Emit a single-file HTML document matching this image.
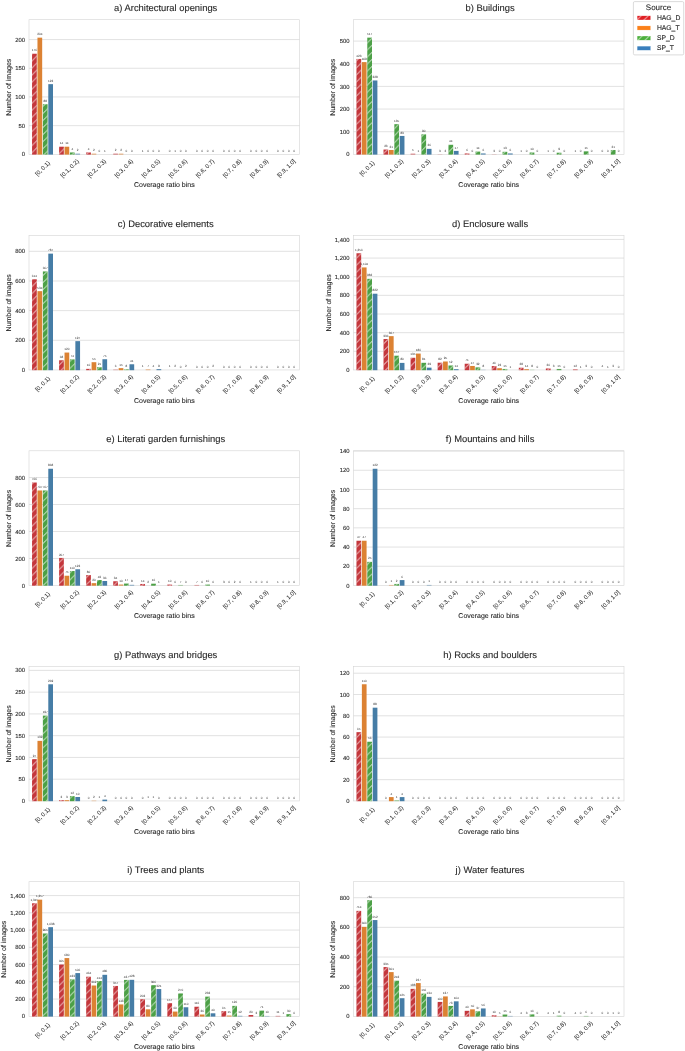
<!DOCTYPE html>
<html><head><meta charset="utf-8"><title>Coverage ratio distributions</title>
<style>html,body{margin:0;padding:0;background:#fff;}svg{display:block;will-change:transform;transform:translateZ(0);}text{font-family:"Liberation Sans",sans-serif;fill:#262626;stroke:#262626;stroke-width:0.1px;text-rendering:geometricPrecision;}.t{font-size:9.4px;text-anchor:middle;}.l{font-size:7.0px;text-anchor:middle;}.y{font-size:5.9px;text-anchor:end;}.x{font-size:5.9px;text-anchor:middle;stroke-width:0.04px;}.b{font-size:3.1px;text-anchor:middle;stroke:none;fill:#303030;}.g{stroke:#d6d6d6;stroke-width:0.7;fill:none;}.s{stroke:#d4d4d4;stroke-width:0.6;fill:none;}.e{stroke:#fff;stroke-width:0.45;}</style></head><body>
<svg width="685" height="1051" viewBox="0 0 685 1051">
<defs>
<pattern id="h" width="7.05" height="7.05" patternUnits="userSpaceOnUse"><path d="M-2 3.3 L3.3 -2 M-2 10.35 L10.35 -2" stroke="#fff" stroke-width="0.85" fill="none"/></pattern>
<pattern id="h2" width="7.05" height="7.05" patternUnits="userSpaceOnUse"><path d="M-2 3.3 L3.3 -2 M-2 10.35 L10.35 -2" stroke="#fff" stroke-width="0.8" fill="none"/></pattern>
</defs>
<rect width="685" height="1051" fill="#fff"/>
<g>
<text class="t" x="165.7" y="11.1">a) Architectural openings</text>
<text class="y" x="25.1" y="156.45">0</text>
<text class="y" x="25.1" y="127.75">50</text>
<text class="y" x="25.1" y="99.05">100</text>
<text class="y" x="25.1" y="70.36">150</text>
<text class="y" x="25.1" y="41.66">200</text>
<path class="g" d="M29 125.65H299.6M29 96.95H299.6M29 68.26H299.6M29 39.56H299.6"/>
<rect class="s" x="29" y="19.7" width="270.6" height="134.65"/>
<rect x="32.06" y="53.73" width="4.71" height="100.87" fill="#c4373c"/>
<rect x="32.06" y="53.73" width="4.71" height="100.87" fill="url(#h)"/>
<text class="b" x="34.41" y="51.33">176</text>
<rect x="37.47" y="37.66" width="4.71" height="116.94" fill="#dc8233"/>
<text class="b" x="39.82" y="35.26">204</text>
<rect x="42.88" y="104.24" width="4.71" height="50.36" fill="#4ca046"/>
<rect x="42.88" y="104.24" width="4.71" height="50.36" fill="url(#h)"/>
<text class="b" x="45.24" y="101.84">88</text>
<rect x="48.29" y="84.15" width="4.71" height="70.45" fill="#467da6"/>
<text class="b" x="50.65" y="81.75">123</text>
<rect x="59.12" y="146.71" width="4.71" height="7.89" fill="#c4373c"/>
<rect x="59.12" y="146.71" width="4.71" height="7.89" fill="url(#h)"/>
<text class="b" x="61.47" y="144.31">14</text>
<rect x="64.53" y="146.71" width="4.71" height="7.89" fill="#dc8233"/>
<text class="b" x="66.88" y="144.31">14</text>
<rect x="69.94" y="152.45" width="4.71" height="2.15" fill="#4ca046"/>
<rect x="69.94" y="152.45" width="4.71" height="2.15" fill="url(#h)"/>
<text class="b" x="72.3" y="150.05">4</text>
<rect x="75.35" y="153.6" width="4.71" height="1" fill="#467da6" opacity="0.68"/>
<text class="b" x="77.71" y="151.2">2</text>
<rect x="86.18" y="152.45" width="4.71" height="2.15" fill="#c4373c"/>
<rect x="86.18" y="152.45" width="4.71" height="2.15" fill="url(#h)"/>
<text class="b" x="88.53" y="150.05">4</text>
<rect x="91.59" y="153.6" width="4.71" height="1" fill="#dc8233" opacity="0.68"/>
<text class="b" x="93.94" y="151.2">2</text>
<text class="b" x="99.36" y="151.95">0</text>
<text class="b" x="104.77" y="151.66">1</text>
<rect x="113.24" y="153.6" width="4.71" height="1" fill="#c4373c" opacity="0.68"/>
<text class="b" x="115.59" y="151.2">2</text>
<rect x="118.65" y="153.6" width="4.71" height="1" fill="#dc8233" opacity="0.68"/>
<text class="b" x="121" y="151.2">2</text>
<text class="b" x="126.42" y="151.95">0</text>
<text class="b" x="131.83" y="151.95">0</text>
<text class="b" x="142.65" y="151.66">1</text>
<text class="b" x="148.06" y="151.95">0</text>
<text class="b" x="153.48" y="151.95">0</text>
<text class="b" x="158.89" y="151.95">0</text>
<text class="b" x="169.71" y="151.95">0</text>
<text class="b" x="175.12" y="151.66">1</text>
<text class="b" x="180.54" y="151.95">0</text>
<text class="b" x="185.95" y="151.95">0</text>
<text class="b" x="196.77" y="151.95">0</text>
<text class="b" x="202.18" y="151.95">0</text>
<text class="b" x="207.6" y="151.95">0</text>
<text class="b" x="213.01" y="151.95">0</text>
<text class="b" x="223.83" y="151.95">0</text>
<text class="b" x="229.24" y="151.95">0</text>
<text class="b" x="234.66" y="151.95">0</text>
<text class="b" x="240.07" y="151.95">0</text>
<text class="b" x="250.89" y="151.95">0</text>
<text class="b" x="256.3" y="151.95">0</text>
<text class="b" x="261.72" y="151.95">0</text>
<text class="b" x="267.13" y="151.95">0</text>
<text class="b" x="277.95" y="151.95">0</text>
<text class="b" x="283.36" y="151.95">0</text>
<text class="b" x="288.78" y="151.95">0</text>
<text class="b" x="294.19" y="151.95">0</text>
<text class="x" transform="translate(42.53 168.25) rotate(-45)" x="0" y="2.1">[0, 0.1)</text>
<text class="x" transform="translate(69.59 168.25) rotate(-45)" x="0" y="2.1">[0.1, 0.2)</text>
<text class="x" transform="translate(96.65 168.25) rotate(-45)" x="0" y="2.1">[0.2, 0.3)</text>
<text class="x" transform="translate(123.71 168.25) rotate(-45)" x="0" y="2.1">[0.3, 0.4)</text>
<text class="x" transform="translate(150.77 168.25) rotate(-45)" x="0" y="2.1">[0.4, 0.5)</text>
<text class="x" transform="translate(177.83 168.25) rotate(-45)" x="0" y="2.1">[0.5, 0.6)</text>
<text class="x" transform="translate(204.89 168.25) rotate(-45)" x="0" y="2.1">[0.6, 0.7)</text>
<text class="x" transform="translate(231.95 168.25) rotate(-45)" x="0" y="2.1">[0.7, 0.8)</text>
<text class="x" transform="translate(259.01 168.25) rotate(-45)" x="0" y="2.1">[0.8, 0.9)</text>
<text class="x" transform="translate(286.07 168.25) rotate(-45)" x="0" y="2.1">[0.9, 1.0]</text>
<text class="l" x="164.3" y="186.95">Coverage ratio bins</text>
<text class="l" transform="translate(10.8 87.23) rotate(-90)">Number of images</text>
</g>
<g>
<text class="t" x="490.1" y="11.1">b) Buildings</text>
<text class="y" x="349.5" y="156.45">0</text>
<text class="y" x="349.5" y="133.8">100</text>
<text class="y" x="349.5" y="111.15">200</text>
<text class="y" x="349.5" y="88.5">300</text>
<text class="y" x="349.5" y="65.85">400</text>
<text class="y" x="349.5" y="43.2">500</text>
<path class="g" d="M353.4 131.7H624M353.4 109.05H624M353.4 86.4H624M353.4 63.75H624M353.4 41.1H624"/>
<rect class="s" x="353.4" y="19.7" width="270.6" height="134.65"/>
<rect x="356.46" y="58.94" width="4.71" height="95.66" fill="#c4373c"/>
<rect x="356.46" y="58.94" width="4.71" height="95.66" fill="url(#h)"/>
<text class="b" x="358.81" y="56.54">423</text>
<rect x="361.87" y="62.11" width="4.71" height="92.49" fill="#dc8233"/>
<text class="b" x="364.22" y="59.71">409</text>
<rect x="367.28" y="37.65" width="4.71" height="116.95" fill="#4ca046"/>
<rect x="367.28" y="37.65" width="4.71" height="116.95" fill="url(#h)"/>
<text class="b" x="369.64" y="35.25">517</text>
<rect x="372.69" y="80.46" width="4.71" height="74.14" fill="#467da6"/>
<text class="b" x="375.05" y="78.06">328</text>
<rect x="383.52" y="149.54" width="4.71" height="5.06" fill="#c4373c"/>
<rect x="383.52" y="149.54" width="4.71" height="5.06" fill="url(#h)"/>
<text class="b" x="385.87" y="147.14">23</text>
<rect x="388.93" y="149.99" width="4.71" height="4.61" fill="#dc8233"/>
<text class="b" x="391.28" y="147.59">21</text>
<rect x="394.34" y="124.17" width="4.71" height="30.43" fill="#4ca046"/>
<rect x="394.34" y="124.17" width="4.71" height="30.43" fill="url(#h)"/>
<text class="b" x="396.7" y="121.77">135</text>
<rect x="399.75" y="135.95" width="4.71" height="18.65" fill="#467da6"/>
<text class="b" x="402.11" y="133.55">83</text>
<rect x="410.58" y="153.62" width="4.71" height="0.98" fill="#c4373c" opacity="0.67"/>
<text class="b" x="412.93" y="151.22">5</text>
<text class="b" x="418.34" y="151.84">1</text>
<rect x="421.4" y="134.37" width="4.71" height="20.23" fill="#4ca046"/>
<rect x="421.4" y="134.37" width="4.71" height="20.23" fill="url(#h)"/>
<text class="b" x="423.76" y="131.97">90</text>
<rect x="426.81" y="148.86" width="4.71" height="5.74" fill="#467da6"/>
<text class="b" x="429.17" y="146.46">26</text>
<rect x="437.64" y="154.07" width="4.71" height="0.53" fill="#c4373c" opacity="0.25"/>
<text class="b" x="439.99" y="151.67">3</text>
<text class="b" x="445.4" y="151.72">2</text>
<rect x="448.46" y="144.78" width="4.71" height="9.82" fill="#4ca046"/>
<rect x="448.46" y="144.78" width="4.71" height="9.82" fill="url(#h)"/>
<text class="b" x="450.82" y="142.38">44</text>
<rect x="453.87" y="150.9" width="4.71" height="3.7" fill="#467da6"/>
<text class="b" x="456.23" y="148.5">17</text>
<rect x="464.7" y="153.39" width="4.71" height="1.21" fill="#c4373c" opacity="0.87"/>
<rect x="464.7" y="153.39" width="4.71" height="1.21" fill="url(#h)"/>
<text class="b" x="467.05" y="150.99">6</text>
<text class="b" x="472.46" y="151.95">0</text>
<rect x="475.52" y="151.58" width="4.71" height="3.02" fill="#4ca046"/>
<rect x="475.52" y="151.58" width="4.71" height="3.02" fill="url(#h)"/>
<text class="b" x="477.88" y="149.18">14</text>
<rect x="480.93" y="153.39" width="4.71" height="1.21" fill="#467da6" opacity="0.87"/>
<text class="b" x="483.29" y="150.99">6</text>
<rect x="491.76" y="154.07" width="4.71" height="0.53" fill="#c4373c" opacity="0.25"/>
<text class="b" x="494.11" y="151.67">3</text>
<text class="b" x="499.52" y="151.95">0</text>
<rect x="502.58" y="151.81" width="4.71" height="2.79" fill="#4ca046"/>
<rect x="502.58" y="151.81" width="4.71" height="2.79" fill="url(#h)"/>
<text class="b" x="504.94" y="149.41">13</text>
<rect x="507.99" y="153.39" width="4.71" height="1.21" fill="#467da6" opacity="0.87"/>
<text class="b" x="510.35" y="150.99">6</text>
<text class="b" x="521.17" y="151.84">1</text>
<text class="b" x="526.58" y="151.95">0</text>
<rect x="529.64" y="152.49" width="4.71" height="2.11" fill="#4ca046"/>
<rect x="529.64" y="152.49" width="4.71" height="2.11" fill="url(#h)"/>
<text class="b" x="532" y="150.09">10</text>
<text class="b" x="537.41" y="151.95">0</text>
<text class="b" x="548.23" y="151.84">1</text>
<text class="b" x="553.64" y="151.95">0</text>
<rect x="556.7" y="152.71" width="4.71" height="1.89" fill="#4ca046"/>
<rect x="556.7" y="152.71" width="4.71" height="1.89" fill="url(#h)"/>
<text class="b" x="559.06" y="150.31">9</text>
<text class="b" x="564.47" y="151.95">0</text>
<text class="b" x="575.29" y="151.84">1</text>
<text class="b" x="580.7" y="151.95">0</text>
<rect x="583.76" y="151.35" width="4.71" height="3.25" fill="#4ca046"/>
<rect x="583.76" y="151.35" width="4.71" height="3.25" fill="url(#h)"/>
<text class="b" x="586.12" y="148.95">15</text>
<text class="b" x="591.53" y="151.95">0</text>
<text class="b" x="602.35" y="151.95">0</text>
<text class="b" x="607.76" y="151.95">0</text>
<rect x="610.82" y="149.99" width="4.71" height="4.61" fill="#4ca046"/>
<rect x="610.82" y="149.99" width="4.71" height="4.61" fill="url(#h)"/>
<text class="b" x="613.18" y="147.59">21</text>
<text class="b" x="618.59" y="151.95">0</text>
<text class="x" transform="translate(366.93 168.25) rotate(-45)" x="0" y="2.1">[0, 0.1)</text>
<text class="x" transform="translate(393.99 168.25) rotate(-45)" x="0" y="2.1">[0.1, 0.2)</text>
<text class="x" transform="translate(421.05 168.25) rotate(-45)" x="0" y="2.1">[0.2, 0.3)</text>
<text class="x" transform="translate(448.11 168.25) rotate(-45)" x="0" y="2.1">[0.3, 0.4)</text>
<text class="x" transform="translate(475.17 168.25) rotate(-45)" x="0" y="2.1">[0.4, 0.5)</text>
<text class="x" transform="translate(502.23 168.25) rotate(-45)" x="0" y="2.1">[0.5, 0.6)</text>
<text class="x" transform="translate(529.29 168.25) rotate(-45)" x="0" y="2.1">[0.6, 0.7)</text>
<text class="x" transform="translate(556.35 168.25) rotate(-45)" x="0" y="2.1">[0.7, 0.8)</text>
<text class="x" transform="translate(583.41 168.25) rotate(-45)" x="0" y="2.1">[0.8, 0.9)</text>
<text class="x" transform="translate(610.47 168.25) rotate(-45)" x="0" y="2.1">[0.9, 1.0]</text>
<text class="l" x="488.7" y="186.95">Coverage ratio bins</text>
<text class="l" transform="translate(335.2 87.23) rotate(-90)">Number of images</text>
</g>
<g>
<text class="t" x="165.7" y="226.7">c) Decorative elements</text>
<text class="y" x="25.1" y="372.05">0</text>
<text class="y" x="25.1" y="342.39">200</text>
<text class="y" x="25.1" y="312.73">400</text>
<text class="y" x="25.1" y="283.07">600</text>
<text class="y" x="25.1" y="253.42">800</text>
<path class="g" d="M29 340.29H299.6M29 310.63H299.6M29 280.97H299.6M29 251.32H299.6"/>
<rect class="s" x="29" y="235.3" width="270.6" height="134.65"/>
<rect x="32.06" y="279.3" width="4.71" height="90.9" fill="#c4373c"/>
<rect x="32.06" y="279.3" width="4.71" height="90.9" fill="url(#h)"/>
<text class="b" x="34.41" y="276.9">614</text>
<rect x="37.47" y="291.16" width="4.71" height="79.04" fill="#dc8233"/>
<text class="b" x="39.82" y="288.76">534</text>
<rect x="42.88" y="271.44" width="4.71" height="98.76" fill="#4ca046"/>
<rect x="42.88" y="271.44" width="4.71" height="98.76" fill="url(#h)"/>
<text class="b" x="45.24" y="269.04">667</text>
<rect x="48.29" y="253.64" width="4.71" height="116.56" fill="#467da6"/>
<text class="b" x="50.65" y="251.24">787</text>
<rect x="59.12" y="360.27" width="4.71" height="9.93" fill="#c4373c"/>
<rect x="59.12" y="360.27" width="4.71" height="9.93" fill="url(#h)"/>
<text class="b" x="61.47" y="357.87">68</text>
<rect x="64.53" y="352.55" width="4.71" height="17.65" fill="#dc8233"/>
<text class="b" x="66.88" y="350.15">120</text>
<rect x="69.94" y="359.38" width="4.71" height="10.82" fill="#4ca046"/>
<rect x="69.94" y="359.38" width="4.71" height="10.82" fill="url(#h)"/>
<text class="b" x="72.3" y="356.98">74</text>
<rect x="75.35" y="341.14" width="4.71" height="29.06" fill="#467da6"/>
<text class="b" x="77.71" y="338.74">197</text>
<rect x="86.18" y="368.87" width="4.71" height="1.33" fill="#c4373c" opacity="0.98"/>
<rect x="86.18" y="368.87" width="4.71" height="1.33" fill="url(#h)"/>
<text class="b" x="88.53" y="366.47">10</text>
<rect x="91.59" y="362.19" width="4.71" height="8.01" fill="#dc8233"/>
<text class="b" x="93.94" y="359.79">55</text>
<rect x="97" y="367.24" width="4.71" height="2.96" fill="#4ca046"/>
<rect x="97" y="367.24" width="4.71" height="2.96" fill="url(#h)"/>
<text class="b" x="99.36" y="364.84">21</text>
<rect x="102.41" y="359.23" width="4.71" height="10.97" fill="#467da6"/>
<text class="b" x="104.77" y="356.83">75</text>
<rect x="113.24" y="369.46" width="4.71" height="0.74" fill="#c4373c" opacity="0.45"/>
<text class="b" x="115.59" y="367.06">6</text>
<rect x="118.65" y="368.13" width="4.71" height="2.07" fill="#dc8233"/>
<text class="b" x="121" y="365.73">15</text>
<rect x="124.06" y="369.16" width="4.71" height="1.04" fill="#4ca046" opacity="0.71"/>
<rect x="124.06" y="369.16" width="4.71" height="1.04" fill="url(#h)"/>
<text class="b" x="126.42" y="366.76">8</text>
<rect x="129.47" y="364.27" width="4.71" height="5.93" fill="#467da6"/>
<text class="b" x="131.83" y="361.87">41</text>
<text class="b" x="142.65" y="367.48">1</text>
<rect x="145.71" y="369.31" width="4.71" height="0.89" fill="#dc8233" opacity="0.58"/>
<text class="b" x="148.06" y="366.91">7</text>
<text class="b" x="153.48" y="367.25">4</text>
<rect x="156.53" y="369.02" width="4.71" height="1.18" fill="#467da6" opacity="0.85"/>
<text class="b" x="158.89" y="366.62">9</text>
<text class="b" x="169.71" y="367.48">1</text>
<text class="b" x="175.12" y="367.4">2</text>
<text class="b" x="180.54" y="367.55">0</text>
<text class="b" x="185.95" y="367.4">2</text>
<text class="b" x="196.77" y="367.55">0</text>
<text class="b" x="202.18" y="367.55">0</text>
<text class="b" x="207.6" y="367.55">0</text>
<text class="b" x="213.01" y="367.4">2</text>
<text class="b" x="223.83" y="367.55">0</text>
<text class="b" x="229.24" y="367.55">0</text>
<text class="b" x="234.66" y="367.55">0</text>
<text class="b" x="240.07" y="367.55">0</text>
<text class="b" x="250.89" y="367.55">0</text>
<text class="b" x="256.3" y="367.55">0</text>
<text class="b" x="261.72" y="367.55">0</text>
<text class="b" x="267.13" y="367.55">0</text>
<text class="b" x="277.95" y="367.55">0</text>
<text class="b" x="283.36" y="367.55">0</text>
<text class="b" x="288.78" y="367.55">0</text>
<text class="b" x="294.19" y="367.55">0</text>
<text class="x" transform="translate(42.53 383.85) rotate(-45)" x="0" y="2.1">[0, 0.1)</text>
<text class="x" transform="translate(69.59 383.85) rotate(-45)" x="0" y="2.1">[0.1, 0.2)</text>
<text class="x" transform="translate(96.65 383.85) rotate(-45)" x="0" y="2.1">[0.2, 0.3)</text>
<text class="x" transform="translate(123.71 383.85) rotate(-45)" x="0" y="2.1">[0.3, 0.4)</text>
<text class="x" transform="translate(150.77 383.85) rotate(-45)" x="0" y="2.1">[0.4, 0.5)</text>
<text class="x" transform="translate(177.83 383.85) rotate(-45)" x="0" y="2.1">[0.5, 0.6)</text>
<text class="x" transform="translate(204.89 383.85) rotate(-45)" x="0" y="2.1">[0.6, 0.7)</text>
<text class="x" transform="translate(231.95 383.85) rotate(-45)" x="0" y="2.1">[0.7, 0.8)</text>
<text class="x" transform="translate(259.01 383.85) rotate(-45)" x="0" y="2.1">[0.8, 0.9)</text>
<text class="x" transform="translate(286.07 383.85) rotate(-45)" x="0" y="2.1">[0.9, 1.0]</text>
<text class="l" x="164.3" y="402.55">Coverage ratio bins</text>
<text class="l" transform="translate(10.8 302.82) rotate(-90)">Number of images</text>
</g>
<g>
<text class="t" x="490.1" y="226.7">d) Enclosure walls</text>
<text class="y" x="349.5" y="372.05">0</text>
<text class="y" x="349.5" y="353.41">200</text>
<text class="y" x="349.5" y="334.76">400</text>
<text class="y" x="349.5" y="316.12">600</text>
<text class="y" x="349.5" y="297.47">800</text>
<text class="y" x="349.5" y="278.83">1,000</text>
<text class="y" x="349.5" y="260.18">1,200</text>
<text class="y" x="349.5" y="241.54">1,400</text>
<path class="g" d="M353.4 351.31H624M353.4 332.66H624M353.4 314.02H624M353.4 295.37H624M353.4 276.73H624M353.4 258.08H624M353.4 239.44H624"/>
<rect class="s" x="353.4" y="235.3" width="270.6" height="134.65"/>
<rect x="356.46" y="253.26" width="4.71" height="116.94" fill="#c4373c"/>
<rect x="356.46" y="253.26" width="4.71" height="116.94" fill="url(#h)"/>
<text class="b" x="358.81" y="250.86">1,256</text>
<rect x="361.87" y="267.43" width="4.71" height="102.77" fill="#dc8233"/>
<text class="b" x="364.22" y="265.03">1,104</text>
<rect x="367.28" y="278.81" width="4.71" height="91.39" fill="#4ca046"/>
<rect x="367.28" y="278.81" width="4.71" height="91.39" fill="url(#h)"/>
<text class="b" x="369.64" y="276.41">982</text>
<rect x="372.69" y="293.72" width="4.71" height="76.48" fill="#467da6"/>
<text class="b" x="375.05" y="291.32">822</text>
<rect x="383.52" y="339.03" width="4.71" height="31.17" fill="#c4373c"/>
<rect x="383.52" y="339.03" width="4.71" height="31.17" fill="url(#h)"/>
<text class="b" x="385.87" y="336.63">336</text>
<rect x="388.93" y="336.14" width="4.71" height="34.06" fill="#dc8233"/>
<text class="b" x="391.28" y="333.74">367</text>
<rect x="394.34" y="355.71" width="4.71" height="14.49" fill="#4ca046"/>
<rect x="394.34" y="355.71" width="4.71" height="14.49" fill="url(#h)"/>
<text class="b" x="396.7" y="353.31">157</text>
<rect x="399.75" y="362.89" width="4.71" height="7.31" fill="#467da6"/>
<text class="b" x="402.11" y="360.49">80</text>
<rect x="410.58" y="357.77" width="4.71" height="12.43" fill="#c4373c"/>
<rect x="410.58" y="357.77" width="4.71" height="12.43" fill="url(#h)"/>
<text class="b" x="412.93" y="355.37">135</text>
<rect x="415.99" y="353.57" width="4.71" height="16.63" fill="#dc8233"/>
<text class="b" x="418.34" y="351.17">180</text>
<rect x="421.4" y="362.8" width="4.71" height="7.4" fill="#4ca046"/>
<rect x="421.4" y="362.8" width="4.71" height="7.4" fill="url(#h)"/>
<text class="b" x="423.76" y="360.4">81</text>
<rect x="426.81" y="367.65" width="4.71" height="2.55" fill="#467da6"/>
<text class="b" x="429.17" y="365.25">29</text>
<rect x="437.64" y="362.71" width="4.71" height="7.49" fill="#c4373c"/>
<rect x="437.64" y="362.71" width="4.71" height="7.49" fill="url(#h)"/>
<text class="b" x="439.99" y="360.31">82</text>
<rect x="443.05" y="361.49" width="4.71" height="8.71" fill="#dc8233"/>
<text class="b" x="445.4" y="359.09">95</text>
<rect x="448.46" y="365.5" width="4.71" height="4.7" fill="#4ca046"/>
<rect x="448.46" y="365.5" width="4.71" height="4.7" fill="url(#h)"/>
<text class="b" x="450.82" y="363.1">52</text>
<rect x="453.87" y="369.04" width="4.71" height="1.16" fill="#467da6" opacity="0.82"/>
<text class="b" x="456.23" y="366.64">14</text>
<rect x="464.7" y="363.73" width="4.71" height="6.47" fill="#c4373c"/>
<rect x="464.7" y="363.73" width="4.71" height="6.47" fill="url(#h)"/>
<text class="b" x="467.05" y="361.33">71</text>
<rect x="470.11" y="365.97" width="4.71" height="4.23" fill="#dc8233"/>
<text class="b" x="472.46" y="363.57">47</text>
<rect x="475.52" y="367.37" width="4.71" height="2.83" fill="#4ca046"/>
<rect x="475.52" y="367.37" width="4.71" height="2.83" fill="url(#h)"/>
<text class="b" x="477.88" y="364.97">32</text>
<rect x="480.93" y="369.6" width="4.71" height="0.6" fill="#467da6" opacity="0.31"/>
<text class="b" x="483.29" y="367.2">8</text>
<rect x="491.76" y="366.06" width="4.71" height="4.14" fill="#c4373c"/>
<rect x="491.76" y="366.06" width="4.71" height="4.14" fill="url(#h)"/>
<text class="b" x="494.11" y="363.66">46</text>
<rect x="497.17" y="368.21" width="4.71" height="1.99" fill="#dc8233"/>
<text class="b" x="499.52" y="365.81">23</text>
<rect x="502.58" y="368.95" width="4.71" height="1.25" fill="#4ca046" opacity="0.91"/>
<rect x="502.58" y="368.95" width="4.71" height="1.25" fill="url(#h)"/>
<text class="b" x="504.94" y="366.55">15</text>
<text class="b" x="510.35" y="367.5">1</text>
<rect x="518.82" y="367.74" width="4.71" height="2.46" fill="#c4373c"/>
<rect x="518.82" y="367.74" width="4.71" height="2.46" fill="url(#h)"/>
<text class="b" x="521.17" y="365.34">28</text>
<rect x="524.23" y="369.04" width="4.71" height="1.16" fill="#dc8233" opacity="0.82"/>
<text class="b" x="526.58" y="366.64">14</text>
<rect x="529.64" y="369.6" width="4.71" height="0.6" fill="#4ca046" opacity="0.31"/>
<text class="b" x="532" y="367.2">8</text>
<text class="b" x="537.41" y="367.55">0</text>
<rect x="545.88" y="368.49" width="4.71" height="1.71" fill="#c4373c"/>
<rect x="545.88" y="368.49" width="4.71" height="1.71" fill="url(#h)"/>
<text class="b" x="548.23" y="366.09">20</text>
<text class="b" x="553.64" y="367.41">3</text>
<rect x="556.7" y="368.95" width="4.71" height="1.25" fill="#4ca046" opacity="0.91"/>
<rect x="556.7" y="368.95" width="4.71" height="1.25" fill="url(#h)"/>
<text class="b" x="559.06" y="366.55">15</text>
<text class="b" x="564.47" y="367.55">0</text>
<rect x="572.94" y="369.23" width="4.71" height="0.97" fill="#c4373c" opacity="0.65"/>
<text class="b" x="575.29" y="366.83">12</text>
<text class="b" x="580.7" y="367.5">1</text>
<text class="b" x="586.12" y="367.41">3</text>
<text class="b" x="591.53" y="367.55">0</text>
<text class="b" x="602.35" y="367.36">4</text>
<text class="b" x="607.76" y="367.5">1</text>
<text class="b" x="613.18" y="367.41">3</text>
<text class="b" x="618.59" y="367.55">0</text>
<text class="x" transform="translate(366.93 383.85) rotate(-45)" x="0" y="2.1">[0, 0.1)</text>
<text class="x" transform="translate(393.99 383.85) rotate(-45)" x="0" y="2.1">[0.1, 0.2)</text>
<text class="x" transform="translate(421.05 383.85) rotate(-45)" x="0" y="2.1">[0.2, 0.3)</text>
<text class="x" transform="translate(448.11 383.85) rotate(-45)" x="0" y="2.1">[0.3, 0.4)</text>
<text class="x" transform="translate(475.17 383.85) rotate(-45)" x="0" y="2.1">[0.4, 0.5)</text>
<text class="x" transform="translate(502.23 383.85) rotate(-45)" x="0" y="2.1">[0.5, 0.6)</text>
<text class="x" transform="translate(529.29 383.85) rotate(-45)" x="0" y="2.1">[0.6, 0.7)</text>
<text class="x" transform="translate(556.35 383.85) rotate(-45)" x="0" y="2.1">[0.7, 0.8)</text>
<text class="x" transform="translate(583.41 383.85) rotate(-45)" x="0" y="2.1">[0.8, 0.9)</text>
<text class="x" transform="translate(610.47 383.85) rotate(-45)" x="0" y="2.1">[0.9, 1.0]</text>
<text class="l" x="488.7" y="402.55">Coverage ratio bins</text>
<text class="l" transform="translate(330.8 302.82) rotate(-90)">Number of images</text>
</g>
<g>
<text class="t" x="165.7" y="442.2">e) Literati garden furnishings</text>
<text class="y" x="25.1" y="587.55">0</text>
<text class="y" x="25.1" y="560.57">200</text>
<text class="y" x="25.1" y="533.59">400</text>
<text class="y" x="25.1" y="506.61">600</text>
<text class="y" x="25.1" y="479.64">800</text>
<path class="g" d="M29 558.47H299.6M29 531.49H299.6M29 504.51H299.6M29 477.54H299.6"/>
<rect class="s" x="29" y="450.8" width="270.6" height="134.65"/>
<rect x="32.06" y="482.52" width="4.71" height="103.18" fill="#c4373c"/>
<rect x="32.06" y="482.52" width="4.71" height="103.18" fill="url(#h)"/>
<text class="b" x="34.41" y="480.12">766</text>
<rect x="37.47" y="490.48" width="4.71" height="95.22" fill="#dc8233"/>
<text class="b" x="39.82" y="488.08">707</text>
<rect x="42.88" y="490.48" width="4.71" height="95.22" fill="#4ca046"/>
<rect x="42.88" y="490.48" width="4.71" height="95.22" fill="url(#h)"/>
<text class="b" x="45.24" y="488.08">707</text>
<rect x="48.29" y="468.76" width="4.71" height="116.94" fill="#467da6"/>
<text class="b" x="50.65" y="466.36">868</text>
<rect x="59.12" y="557.93" width="4.71" height="27.77" fill="#c4373c"/>
<rect x="59.12" y="557.93" width="4.71" height="27.77" fill="url(#h)"/>
<text class="b" x="61.47" y="555.53">207</text>
<rect x="64.53" y="575.73" width="4.71" height="9.97" fill="#dc8233"/>
<text class="b" x="66.88" y="573.33">75</text>
<rect x="69.94" y="571.01" width="4.71" height="14.69" fill="#4ca046"/>
<rect x="69.94" y="571.01" width="4.71" height="14.69" fill="url(#h)"/>
<text class="b" x="72.3" y="568.61">110</text>
<rect x="75.35" y="569.26" width="4.71" height="16.44" fill="#467da6"/>
<text class="b" x="77.71" y="566.86">123</text>
<rect x="86.18" y="575.06" width="4.71" height="10.64" fill="#c4373c"/>
<rect x="86.18" y="575.06" width="4.71" height="10.64" fill="url(#h)"/>
<text class="b" x="88.53" y="572.66">80</text>
<rect x="91.59" y="583.15" width="4.71" height="2.55" fill="#dc8233"/>
<text class="b" x="93.94" y="580.75">20</text>
<rect x="97" y="580.05" width="4.71" height="5.65" fill="#4ca046"/>
<rect x="97" y="580.05" width="4.71" height="5.65" fill="url(#h)"/>
<text class="b" x="99.36" y="577.65">43</text>
<rect x="102.41" y="580.99" width="4.71" height="4.71" fill="#467da6"/>
<text class="b" x="104.77" y="578.59">36</text>
<rect x="113.24" y="581.26" width="4.71" height="4.44" fill="#c4373c"/>
<rect x="113.24" y="581.26" width="4.71" height="4.44" fill="url(#h)"/>
<text class="b" x="115.59" y="578.86">34</text>
<rect x="118.65" y="584.5" width="4.71" height="1.2" fill="#dc8233" opacity="0.86"/>
<text class="b" x="121" y="582.1">10</text>
<rect x="124.06" y="583.56" width="4.71" height="2.14" fill="#4ca046"/>
<rect x="124.06" y="583.56" width="4.71" height="2.14" fill="url(#h)"/>
<text class="b" x="126.42" y="581.16">17</text>
<rect x="129.47" y="584.77" width="4.71" height="0.93" fill="#467da6" opacity="0.62"/>
<text class="b" x="131.83" y="582.37">8</text>
<rect x="140.3" y="583.96" width="4.71" height="1.74" fill="#c4373c"/>
<rect x="140.3" y="583.96" width="4.71" height="1.74" fill="url(#h)"/>
<text class="b" x="142.65" y="581.56">14</text>
<text class="b" x="148.06" y="582.92">2</text>
<rect x="151.12" y="583.69" width="4.71" height="2.01" fill="#4ca046"/>
<rect x="151.12" y="583.69" width="4.71" height="2.01" fill="url(#h)"/>
<text class="b" x="153.48" y="581.29">16</text>
<text class="b" x="158.89" y="582.98">1</text>
<rect x="167.36" y="584.5" width="4.71" height="1.2" fill="#c4373c" opacity="0.86"/>
<rect x="167.36" y="584.5" width="4.71" height="1.2" fill="url(#h)"/>
<text class="b" x="169.71" y="582.1">10</text>
<text class="b" x="175.12" y="583.05">0</text>
<rect x="178.18" y="584.91" width="4.71" height="0.79" fill="#4ca046" opacity="0.49"/>
<text class="b" x="180.54" y="582.51">7</text>
<text class="b" x="185.95" y="583.05">0</text>
<rect x="194.42" y="584.91" width="4.71" height="0.79" fill="#c4373c" opacity="0.49"/>
<text class="b" x="196.77" y="582.51">7</text>
<text class="b" x="202.18" y="583.05">0</text>
<rect x="205.24" y="584.5" width="4.71" height="1.2" fill="#4ca046" opacity="0.86"/>
<rect x="205.24" y="584.5" width="4.71" height="1.2" fill="url(#h)"/>
<text class="b" x="207.6" y="582.1">10</text>
<text class="b" x="213.01" y="583.05">0</text>
<text class="b" x="223.83" y="582.85">3</text>
<text class="b" x="229.24" y="583.05">0</text>
<text class="b" x="234.66" y="582.92">2</text>
<text class="b" x="240.07" y="583.05">0</text>
<text class="b" x="250.89" y="582.98">1</text>
<text class="b" x="256.3" y="583.05">0</text>
<text class="b" x="261.72" y="583.05">0</text>
<text class="b" x="267.13" y="583.05">0</text>
<text class="b" x="277.95" y="582.98">1</text>
<text class="b" x="283.36" y="583.05">0</text>
<text class="b" x="288.78" y="583.05">0</text>
<text class="b" x="294.19" y="583.05">0</text>
<text class="x" transform="translate(42.53 599.35) rotate(-45)" x="0" y="2.1">[0, 0.1)</text>
<text class="x" transform="translate(69.59 599.35) rotate(-45)" x="0" y="2.1">[0.1, 0.2)</text>
<text class="x" transform="translate(96.65 599.35) rotate(-45)" x="0" y="2.1">[0.2, 0.3)</text>
<text class="x" transform="translate(123.71 599.35) rotate(-45)" x="0" y="2.1">[0.3, 0.4)</text>
<text class="x" transform="translate(150.77 599.35) rotate(-45)" x="0" y="2.1">[0.4, 0.5)</text>
<text class="x" transform="translate(177.83 599.35) rotate(-45)" x="0" y="2.1">[0.5, 0.6)</text>
<text class="x" transform="translate(204.89 599.35) rotate(-45)" x="0" y="2.1">[0.6, 0.7)</text>
<text class="x" transform="translate(231.95 599.35) rotate(-45)" x="0" y="2.1">[0.7, 0.8)</text>
<text class="x" transform="translate(259.01 599.35) rotate(-45)" x="0" y="2.1">[0.8, 0.9)</text>
<text class="x" transform="translate(286.07 599.35) rotate(-45)" x="0" y="2.1">[0.9, 1.0]</text>
<text class="l" x="164.3" y="618.05">Coverage ratio bins</text>
<text class="l" transform="translate(10.8 518.33) rotate(-90)">Number of images</text>
</g>
<g>
<text class="t" x="490.1" y="442.2">f) Mountains and hills</text>
<text class="y" x="349.5" y="587.55">0</text>
<text class="y" x="349.5" y="568.36">20</text>
<text class="y" x="349.5" y="549.16">40</text>
<text class="y" x="349.5" y="529.97">60</text>
<text class="y" x="349.5" y="510.77">80</text>
<text class="y" x="349.5" y="491.58">100</text>
<text class="y" x="349.5" y="472.38">120</text>
<text class="y" x="349.5" y="453.19">140</text>
<path class="g" d="M353.4 566.26H624M353.4 547.06H624M353.4 527.87H624M353.4 508.67H624M353.4 489.48H624M353.4 470.28H624M353.4 451.09H624"/>
<rect class="s" x="353.4" y="450.8" width="270.6" height="134.65"/>
<rect x="356.46" y="540.74" width="4.71" height="44.96" fill="#c4373c"/>
<rect x="356.46" y="540.74" width="4.71" height="44.96" fill="url(#h)"/>
<text class="b" x="358.81" y="538.34">47</text>
<rect x="361.87" y="540.74" width="4.71" height="44.96" fill="#dc8233"/>
<text class="b" x="364.22" y="538.34">47</text>
<rect x="367.28" y="561.86" width="4.71" height="23.84" fill="#4ca046"/>
<rect x="367.28" y="561.86" width="4.71" height="23.84" fill="url(#h)"/>
<text class="b" x="369.64" y="559.46">25</text>
<rect x="372.69" y="468.76" width="4.71" height="116.94" fill="#467da6"/>
<text class="b" x="375.05" y="466.36">122</text>
<text class="b" x="385.87" y="583.05">0</text>
<rect x="388.93" y="584.89" width="4.71" height="0.81" fill="#dc8233" opacity="0.51"/>
<text class="b" x="391.28" y="582.49">1</text>
<rect x="394.34" y="583.93" width="4.71" height="1.77" fill="#4ca046"/>
<rect x="394.34" y="583.93" width="4.71" height="1.77" fill="url(#h)"/>
<text class="b" x="396.7" y="581.53">2</text>
<rect x="399.75" y="580.09" width="4.71" height="5.61" fill="#467da6"/>
<text class="b" x="402.11" y="577.69">6</text>
<text class="b" x="412.93" y="583.05">0</text>
<text class="b" x="418.34" y="583.05">0</text>
<text class="b" x="423.76" y="583.05">0</text>
<rect x="426.81" y="584.89" width="4.71" height="0.81" fill="#467da6" opacity="0.51"/>
<text class="b" x="429.17" y="582.49">1</text>
<text class="b" x="439.99" y="583.05">0</text>
<text class="b" x="445.4" y="583.05">0</text>
<text class="b" x="450.82" y="583.05">0</text>
<text class="b" x="456.23" y="583.05">0</text>
<text class="b" x="467.05" y="583.05">0</text>
<text class="b" x="472.46" y="583.05">0</text>
<text class="b" x="477.88" y="583.05">0</text>
<text class="b" x="483.29" y="583.05">0</text>
<text class="b" x="494.11" y="583.05">0</text>
<text class="b" x="499.52" y="583.05">0</text>
<text class="b" x="504.94" y="583.05">0</text>
<text class="b" x="510.35" y="583.05">0</text>
<text class="b" x="521.17" y="583.05">0</text>
<text class="b" x="526.58" y="583.05">0</text>
<text class="b" x="532" y="583.05">0</text>
<text class="b" x="537.41" y="583.05">0</text>
<text class="b" x="548.23" y="583.05">0</text>
<text class="b" x="553.64" y="583.05">0</text>
<text class="b" x="559.06" y="583.05">0</text>
<text class="b" x="564.47" y="583.05">0</text>
<text class="b" x="575.29" y="583.05">0</text>
<text class="b" x="580.7" y="583.05">0</text>
<text class="b" x="586.12" y="583.05">0</text>
<text class="b" x="591.53" y="583.05">0</text>
<text class="b" x="602.35" y="583.05">0</text>
<text class="b" x="607.76" y="583.05">0</text>
<text class="b" x="613.18" y="583.05">0</text>
<text class="b" x="618.59" y="583.05">0</text>
<text class="x" transform="translate(366.93 599.35) rotate(-45)" x="0" y="2.1">[0, 0.1)</text>
<text class="x" transform="translate(393.99 599.35) rotate(-45)" x="0" y="2.1">[0.1, 0.2)</text>
<text class="x" transform="translate(421.05 599.35) rotate(-45)" x="0" y="2.1">[0.2, 0.3)</text>
<text class="x" transform="translate(448.11 599.35) rotate(-45)" x="0" y="2.1">[0.3, 0.4)</text>
<text class="x" transform="translate(475.17 599.35) rotate(-45)" x="0" y="2.1">[0.4, 0.5)</text>
<text class="x" transform="translate(502.23 599.35) rotate(-45)" x="0" y="2.1">[0.5, 0.6)</text>
<text class="x" transform="translate(529.29 599.35) rotate(-45)" x="0" y="2.1">[0.6, 0.7)</text>
<text class="x" transform="translate(556.35 599.35) rotate(-45)" x="0" y="2.1">[0.7, 0.8)</text>
<text class="x" transform="translate(583.41 599.35) rotate(-45)" x="0" y="2.1">[0.8, 0.9)</text>
<text class="x" transform="translate(610.47 599.35) rotate(-45)" x="0" y="2.1">[0.9, 1.0]</text>
<text class="l" x="488.7" y="618.05">Coverage ratio bins</text>
<text class="l" transform="translate(335.2 518.33) rotate(-90)">Number of images</text>
</g>
<g>
<text class="t" x="165.7" y="657.7">g) Pathways and bridges</text>
<text class="y" x="25.1" y="803.05">0</text>
<text class="y" x="25.1" y="781.29">50</text>
<text class="y" x="25.1" y="759.53">100</text>
<text class="y" x="25.1" y="737.77">150</text>
<text class="y" x="25.1" y="716.01">200</text>
<text class="y" x="25.1" y="694.25">250</text>
<text class="y" x="25.1" y="672.49">300</text>
<path class="g" d="M29 779.19H299.6M29 757.43H299.6M29 735.67H299.6M29 713.91H299.6M29 692.15H299.6M29 670.39H299.6"/>
<rect class="s" x="29" y="666.3" width="270.6" height="134.65"/>
<rect x="32.06" y="759.14" width="4.71" height="42.06" fill="#c4373c"/>
<rect x="32.06" y="759.14" width="4.71" height="42.06" fill="url(#h)"/>
<text class="b" x="34.41" y="756.74">97</text>
<rect x="37.47" y="740.86" width="4.71" height="60.34" fill="#dc8233"/>
<text class="b" x="39.82" y="738.46">139</text>
<rect x="42.88" y="715.62" width="4.71" height="85.58" fill="#4ca046"/>
<rect x="42.88" y="715.62" width="4.71" height="85.58" fill="url(#h)"/>
<text class="b" x="45.24" y="713.22">197</text>
<rect x="48.29" y="684.28" width="4.71" height="116.92" fill="#467da6"/>
<text class="b" x="50.65" y="681.88">269</text>
<rect x="59.12" y="800.04" width="4.71" height="1.16" fill="#c4373c" opacity="0.82"/>
<rect x="59.12" y="800.04" width="4.71" height="1.16" fill="url(#h)"/>
<text class="b" x="61.47" y="797.64">3</text>
<rect x="64.53" y="800.04" width="4.71" height="1.16" fill="#dc8233" opacity="0.82"/>
<text class="b" x="66.88" y="797.64">3</text>
<rect x="69.94" y="796.13" width="4.71" height="5.07" fill="#4ca046"/>
<rect x="69.94" y="796.13" width="4.71" height="5.07" fill="url(#h)"/>
<text class="b" x="72.3" y="793.73">12</text>
<rect x="75.35" y="797" width="4.71" height="4.2" fill="#467da6"/>
<text class="b" x="77.71" y="794.6">10</text>
<text class="b" x="88.53" y="798.55">0</text>
<rect x="91.59" y="800.48" width="4.71" height="0.72" fill="#dc8233" opacity="0.43"/>
<text class="b" x="93.94" y="798.08">2</text>
<text class="b" x="99.36" y="798.33">1</text>
<rect x="102.41" y="799.61" width="4.71" height="1.59" fill="#467da6"/>
<text class="b" x="104.77" y="797.21">4</text>
<text class="b" x="115.59" y="798.55">0</text>
<text class="b" x="121" y="798.55">0</text>
<text class="b" x="126.42" y="798.55">0</text>
<text class="b" x="131.83" y="798.55">0</text>
<text class="b" x="142.65" y="798.55">0</text>
<text class="b" x="148.06" y="798.33">1</text>
<text class="b" x="153.48" y="798.33">1</text>
<text class="b" x="158.89" y="798.55">0</text>
<text class="b" x="169.71" y="798.55">0</text>
<text class="b" x="175.12" y="798.55">0</text>
<text class="b" x="180.54" y="798.55">0</text>
<text class="b" x="185.95" y="798.55">0</text>
<text class="b" x="196.77" y="798.55">0</text>
<text class="b" x="202.18" y="798.55">0</text>
<text class="b" x="207.6" y="798.55">0</text>
<text class="b" x="213.01" y="798.55">0</text>
<text class="b" x="223.83" y="798.55">0</text>
<text class="b" x="229.24" y="798.55">0</text>
<text class="b" x="234.66" y="798.55">0</text>
<text class="b" x="240.07" y="798.55">0</text>
<text class="b" x="250.89" y="798.55">0</text>
<text class="b" x="256.3" y="798.55">0</text>
<text class="b" x="261.72" y="798.55">0</text>
<text class="b" x="267.13" y="798.55">0</text>
<text class="b" x="277.95" y="798.55">0</text>
<text class="b" x="283.36" y="798.55">0</text>
<text class="b" x="288.78" y="798.55">0</text>
<text class="b" x="294.19" y="798.55">0</text>
<text class="x" transform="translate(42.53 814.85) rotate(-45)" x="0" y="2.1">[0, 0.1)</text>
<text class="x" transform="translate(69.59 814.85) rotate(-45)" x="0" y="2.1">[0.1, 0.2)</text>
<text class="x" transform="translate(96.65 814.85) rotate(-45)" x="0" y="2.1">[0.2, 0.3)</text>
<text class="x" transform="translate(123.71 814.85) rotate(-45)" x="0" y="2.1">[0.3, 0.4)</text>
<text class="x" transform="translate(150.77 814.85) rotate(-45)" x="0" y="2.1">[0.4, 0.5)</text>
<text class="x" transform="translate(177.83 814.85) rotate(-45)" x="0" y="2.1">[0.5, 0.6)</text>
<text class="x" transform="translate(204.89 814.85) rotate(-45)" x="0" y="2.1">[0.6, 0.7)</text>
<text class="x" transform="translate(231.95 814.85) rotate(-45)" x="0" y="2.1">[0.7, 0.8)</text>
<text class="x" transform="translate(259.01 814.85) rotate(-45)" x="0" y="2.1">[0.8, 0.9)</text>
<text class="x" transform="translate(286.07 814.85) rotate(-45)" x="0" y="2.1">[0.9, 1.0]</text>
<text class="l" x="164.3" y="833.55">Coverage ratio bins</text>
<text class="l" transform="translate(10.8 733.83) rotate(-90)">Number of images</text>
</g>
<g>
<text class="t" x="490.1" y="657.7">h) Rocks and boulders</text>
<text class="y" x="349.5" y="803.05">0</text>
<text class="y" x="349.5" y="781.76">20</text>
<text class="y" x="349.5" y="760.47">40</text>
<text class="y" x="349.5" y="739.18">60</text>
<text class="y" x="349.5" y="717.9">80</text>
<text class="y" x="349.5" y="696.61">100</text>
<text class="y" x="349.5" y="675.32">120</text>
<path class="g" d="M353.4 779.66H624M353.4 758.37H624M353.4 737.08H624M353.4 715.8H624M353.4 694.51H624M353.4 673.22H624"/>
<rect class="s" x="353.4" y="666.3" width="270.6" height="134.65"/>
<rect x="356.46" y="732.16" width="4.71" height="69.04" fill="#c4373c"/>
<rect x="356.46" y="732.16" width="4.71" height="69.04" fill="url(#h)"/>
<text class="b" x="358.81" y="729.76">65</text>
<rect x="361.87" y="684.26" width="4.71" height="116.94" fill="#dc8233"/>
<text class="b" x="364.22" y="681.86">110</text>
<rect x="367.28" y="741.74" width="4.71" height="59.46" fill="#4ca046"/>
<rect x="367.28" y="741.74" width="4.71" height="59.46" fill="url(#h)"/>
<text class="b" x="369.64" y="739.34">56</text>
<rect x="372.69" y="707.68" width="4.71" height="93.52" fill="#467da6"/>
<text class="b" x="375.05" y="705.28">88</text>
<text class="b" x="385.87" y="798.55">0</text>
<rect x="388.93" y="797.09" width="4.71" height="4.11" fill="#dc8233"/>
<text class="b" x="391.28" y="794.69">4</text>
<rect x="394.34" y="800.29" width="4.71" height="0.91" fill="#4ca046" opacity="0.6"/>
<text class="b" x="396.7" y="797.89">1</text>
<rect x="399.75" y="797.09" width="4.71" height="4.11" fill="#467da6"/>
<text class="b" x="402.11" y="794.69">4</text>
<text class="b" x="412.93" y="798.55">0</text>
<text class="b" x="418.34" y="798.55">0</text>
<text class="b" x="423.76" y="798.55">0</text>
<text class="b" x="429.17" y="798.55">0</text>
<text class="b" x="439.99" y="798.55">0</text>
<text class="b" x="445.4" y="798.55">0</text>
<text class="b" x="450.82" y="798.55">0</text>
<text class="b" x="456.23" y="798.55">0</text>
<text class="b" x="467.05" y="798.55">0</text>
<text class="b" x="472.46" y="798.55">0</text>
<text class="b" x="477.88" y="798.55">0</text>
<text class="b" x="483.29" y="798.55">0</text>
<text class="b" x="494.11" y="798.55">0</text>
<text class="b" x="499.52" y="798.55">0</text>
<text class="b" x="504.94" y="798.55">0</text>
<text class="b" x="510.35" y="798.55">0</text>
<text class="b" x="521.17" y="798.55">0</text>
<text class="b" x="526.58" y="798.55">0</text>
<text class="b" x="532" y="798.55">0</text>
<text class="b" x="537.41" y="798.55">0</text>
<text class="b" x="548.23" y="798.55">0</text>
<text class="b" x="553.64" y="798.55">0</text>
<text class="b" x="559.06" y="798.55">0</text>
<text class="b" x="564.47" y="798.55">0</text>
<text class="b" x="575.29" y="798.55">0</text>
<text class="b" x="580.7" y="798.55">0</text>
<text class="b" x="586.12" y="798.55">0</text>
<text class="b" x="591.53" y="798.55">0</text>
<text class="b" x="602.35" y="798.55">0</text>
<text class="b" x="607.76" y="798.55">0</text>
<text class="b" x="613.18" y="798.55">0</text>
<text class="b" x="618.59" y="798.55">0</text>
<text class="x" transform="translate(366.93 814.85) rotate(-45)" x="0" y="2.1">[0, 0.1)</text>
<text class="x" transform="translate(393.99 814.85) rotate(-45)" x="0" y="2.1">[0.1, 0.2)</text>
<text class="x" transform="translate(421.05 814.85) rotate(-45)" x="0" y="2.1">[0.2, 0.3)</text>
<text class="x" transform="translate(448.11 814.85) rotate(-45)" x="0" y="2.1">[0.3, 0.4)</text>
<text class="x" transform="translate(475.17 814.85) rotate(-45)" x="0" y="2.1">[0.4, 0.5)</text>
<text class="x" transform="translate(502.23 814.85) rotate(-45)" x="0" y="2.1">[0.5, 0.6)</text>
<text class="x" transform="translate(529.29 814.85) rotate(-45)" x="0" y="2.1">[0.6, 0.7)</text>
<text class="x" transform="translate(556.35 814.85) rotate(-45)" x="0" y="2.1">[0.7, 0.8)</text>
<text class="x" transform="translate(583.41 814.85) rotate(-45)" x="0" y="2.1">[0.8, 0.9)</text>
<text class="x" transform="translate(610.47 814.85) rotate(-45)" x="0" y="2.1">[0.9, 1.0]</text>
<text class="l" x="488.7" y="833.55">Coverage ratio bins</text>
<text class="l" transform="translate(335.2 733.83) rotate(-90)">Number of images</text>
</g>
<g>
<text class="t" x="165.7" y="873.1">i) Trees and plants</text>
<text class="y" x="25.1" y="1018.45">0</text>
<text class="y" x="25.1" y="1001.19">200</text>
<text class="y" x="25.1" y="983.94">400</text>
<text class="y" x="25.1" y="966.68">600</text>
<text class="y" x="25.1" y="949.42">800</text>
<text class="y" x="25.1" y="932.16">1,000</text>
<text class="y" x="25.1" y="914.91">1,200</text>
<text class="y" x="25.1" y="897.65">1,400</text>
<path class="g" d="M29 999.09H299.6M29 981.84H299.6M29 964.58H299.6M29 947.32H299.6M29 930.06H299.6M29 912.81H299.6M29 895.55H299.6"/>
<rect class="s" x="29" y="881.7" width="270.6" height="134.65"/>
<rect x="32.06" y="903.28" width="4.71" height="113.32" fill="#c4373c"/>
<rect x="32.06" y="903.28" width="4.71" height="113.32" fill="url(#h)"/>
<text class="b" x="34.41" y="900.88">1,315</text>
<rect x="37.47" y="899.66" width="4.71" height="116.94" fill="#dc8233"/>
<text class="b" x="39.82" y="897.26">1,357</text>
<rect x="42.88" y="933.48" width="4.71" height="83.12" fill="#4ca046"/>
<rect x="42.88" y="933.48" width="4.71" height="83.12" fill="url(#h)"/>
<text class="b" x="45.24" y="931.08">965</text>
<rect x="48.29" y="927.18" width="4.71" height="89.42" fill="#467da6"/>
<text class="b" x="50.65" y="924.78">1,038</text>
<rect x="59.12" y="964.55" width="4.71" height="52.05" fill="#c4373c"/>
<rect x="59.12" y="964.55" width="4.71" height="52.05" fill="url(#h)"/>
<text class="b" x="61.47" y="962.15">605</text>
<rect x="64.53" y="958.08" width="4.71" height="58.52" fill="#dc8233"/>
<text class="b" x="66.88" y="955.68">680</text>
<rect x="69.94" y="979.39" width="4.71" height="37.21" fill="#4ca046"/>
<rect x="69.94" y="979.39" width="4.71" height="37.21" fill="url(#h)"/>
<text class="b" x="72.3" y="976.99">433</text>
<rect x="75.35" y="973.09" width="4.71" height="43.51" fill="#467da6"/>
<text class="b" x="77.71" y="970.69">506</text>
<rect x="86.18" y="976.71" width="4.71" height="39.89" fill="#c4373c"/>
<rect x="86.18" y="976.71" width="4.71" height="39.89" fill="url(#h)"/>
<text class="b" x="88.53" y="974.31">464</text>
<rect x="91.59" y="985.51" width="4.71" height="31.09" fill="#dc8233"/>
<text class="b" x="93.94" y="983.11">362</text>
<rect x="97" y="981.03" width="4.71" height="35.57" fill="#4ca046"/>
<rect x="97" y="981.03" width="4.71" height="35.57" fill="url(#h)"/>
<text class="b" x="99.36" y="978.63">414</text>
<rect x="102.41" y="974.81" width="4.71" height="41.79" fill="#467da6"/>
<text class="b" x="104.77" y="972.41">486</text>
<rect x="113.24" y="985.95" width="4.71" height="30.65" fill="#c4373c"/>
<rect x="113.24" y="985.95" width="4.71" height="30.65" fill="url(#h)"/>
<text class="b" x="115.59" y="983.55">357</text>
<rect x="118.65" y="1004.41" width="4.71" height="12.19" fill="#dc8233"/>
<text class="b" x="121" y="1002.01">143</text>
<rect x="124.06" y="979.91" width="4.71" height="36.69" fill="#4ca046"/>
<rect x="124.06" y="979.91" width="4.71" height="36.69" fill="url(#h)"/>
<text class="b" x="126.42" y="977.51">427</text>
<rect x="129.47" y="979.82" width="4.71" height="36.78" fill="#467da6"/>
<text class="b" x="131.83" y="977.42">428</text>
<rect x="140.3" y="999.23" width="4.71" height="17.37" fill="#c4373c"/>
<rect x="140.3" y="999.23" width="4.71" height="17.37" fill="url(#h)"/>
<text class="b" x="142.65" y="996.83">203</text>
<rect x="145.71" y="1009.33" width="4.71" height="7.27" fill="#dc8233"/>
<text class="b" x="148.06" y="1006.93">86</text>
<rect x="151.12" y="985.17" width="4.71" height="31.43" fill="#4ca046"/>
<rect x="151.12" y="985.17" width="4.71" height="31.43" fill="url(#h)"/>
<text class="b" x="153.48" y="982.77">366</text>
<rect x="156.53" y="989.05" width="4.71" height="27.55" fill="#467da6"/>
<text class="b" x="158.89" y="986.65">321</text>
<rect x="167.36" y="1003.2" width="4.71" height="13.4" fill="#c4373c"/>
<rect x="167.36" y="1003.2" width="4.71" height="13.4" fill="url(#h)"/>
<text class="b" x="169.71" y="1000.8">157</text>
<rect x="172.77" y="1011.57" width="4.71" height="5.03" fill="#dc8233"/>
<text class="b" x="175.12" y="1009.17">60</text>
<rect x="178.18" y="993.45" width="4.71" height="23.15" fill="#4ca046"/>
<rect x="178.18" y="993.45" width="4.71" height="23.15" fill="url(#h)"/>
<text class="b" x="180.54" y="991.05">270</text>
<rect x="183.59" y="1007.26" width="4.71" height="9.34" fill="#467da6"/>
<text class="b" x="185.95" y="1004.86">110</text>
<rect x="194.42" y="1006.74" width="4.71" height="9.86" fill="#c4373c"/>
<rect x="194.42" y="1006.74" width="4.71" height="9.86" fill="url(#h)"/>
<text class="b" x="196.77" y="1004.34">116</text>
<rect x="199.83" y="1014.51" width="4.71" height="2.09" fill="#dc8233"/>
<text class="b" x="202.18" y="1012.11">26</text>
<rect x="205.24" y="996.65" width="4.71" height="19.95" fill="#4ca046"/>
<rect x="205.24" y="996.65" width="4.71" height="19.95" fill="url(#h)"/>
<text class="b" x="207.6" y="994.25">233</text>
<rect x="210.65" y="1013.3" width="4.71" height="3.3" fill="#467da6"/>
<text class="b" x="213.01" y="1010.9">40</text>
<rect x="221.48" y="1011.14" width="4.71" height="5.46" fill="#c4373c"/>
<rect x="221.48" y="1011.14" width="4.71" height="5.46" fill="url(#h)"/>
<text class="b" x="223.83" y="1008.74">65</text>
<rect x="226.89" y="1015.46" width="4.71" height="1.14" fill="#dc8233" opacity="0.81"/>
<text class="b" x="229.24" y="1013.06">15</text>
<rect x="232.3" y="1005.88" width="4.71" height="10.72" fill="#4ca046"/>
<rect x="232.3" y="1005.88" width="4.71" height="10.72" fill="url(#h)"/>
<text class="b" x="234.66" y="1003.48">126</text>
<rect x="237.71" y="1015.71" width="4.71" height="0.89" fill="#467da6" opacity="0.58"/>
<text class="b" x="240.07" y="1013.31">12</text>
<rect x="248.54" y="1015.02" width="4.71" height="1.58" fill="#c4373c"/>
<rect x="248.54" y="1015.02" width="4.71" height="1.58" fill="url(#h)"/>
<text class="b" x="250.89" y="1012.62">20</text>
<text class="b" x="256.3" y="1013.82">3</text>
<rect x="259.36" y="1010.62" width="4.71" height="5.98" fill="#4ca046"/>
<rect x="259.36" y="1010.62" width="4.71" height="5.98" fill="url(#h)"/>
<text class="b" x="261.72" y="1008.22">71</text>
<rect x="264.77" y="1015.89" width="4.71" height="0.71" fill="#467da6" opacity="0.42"/>
<text class="b" x="267.13" y="1013.49">10</text>
<rect x="275.6" y="1015.8" width="4.71" height="0.8" fill="#c4373c" opacity="0.5"/>
<text class="b" x="277.95" y="1013.4">11</text>
<text class="b" x="283.36" y="1013.91">1</text>
<rect x="286.42" y="1014.16" width="4.71" height="2.44" fill="#4ca046"/>
<rect x="286.42" y="1014.16" width="4.71" height="2.44" fill="url(#h)"/>
<text class="b" x="288.78" y="1011.76">30</text>
<text class="b" x="294.19" y="1013.95">0</text>
<text class="x" transform="translate(42.53 1030.25) rotate(-45)" x="0" y="2.1">[0, 0.1)</text>
<text class="x" transform="translate(69.59 1030.25) rotate(-45)" x="0" y="2.1">[0.1, 0.2)</text>
<text class="x" transform="translate(96.65 1030.25) rotate(-45)" x="0" y="2.1">[0.2, 0.3)</text>
<text class="x" transform="translate(123.71 1030.25) rotate(-45)" x="0" y="2.1">[0.3, 0.4)</text>
<text class="x" transform="translate(150.77 1030.25) rotate(-45)" x="0" y="2.1">[0.4, 0.5)</text>
<text class="x" transform="translate(177.83 1030.25) rotate(-45)" x="0" y="2.1">[0.5, 0.6)</text>
<text class="x" transform="translate(204.89 1030.25) rotate(-45)" x="0" y="2.1">[0.6, 0.7)</text>
<text class="x" transform="translate(231.95 1030.25) rotate(-45)" x="0" y="2.1">[0.7, 0.8)</text>
<text class="x" transform="translate(259.01 1030.25) rotate(-45)" x="0" y="2.1">[0.8, 0.9)</text>
<text class="x" transform="translate(286.07 1030.25) rotate(-45)" x="0" y="2.1">[0.9, 1.0]</text>
<text class="l" x="164.3" y="1048.95">Coverage ratio bins</text>
<text class="l" transform="translate(6.4 949.23) rotate(-90)">Number of images</text>
</g>
<g>
<text class="t" x="490.1" y="873.1">j) Water features</text>
<text class="y" x="349.5" y="1018.45">0</text>
<text class="y" x="349.5" y="988.79">200</text>
<text class="y" x="349.5" y="959.13">400</text>
<text class="y" x="349.5" y="929.47">600</text>
<text class="y" x="349.5" y="899.82">800</text>
<path class="g" d="M353.4 986.69H624M353.4 957.03H624M353.4 927.37H624M353.4 897.72H624"/>
<rect class="s" x="353.4" y="881.7" width="270.6" height="134.65"/>
<rect x="356.46" y="910.87" width="4.71" height="105.73" fill="#c4373c"/>
<rect x="356.46" y="910.87" width="4.71" height="105.73" fill="url(#h)"/>
<text class="b" x="358.81" y="908.47">714</text>
<rect x="361.87" y="926.88" width="4.71" height="89.72" fill="#dc8233"/>
<text class="b" x="364.22" y="924.48">606</text>
<rect x="367.28" y="900.19" width="4.71" height="116.41" fill="#4ca046"/>
<rect x="367.28" y="900.19" width="4.71" height="116.41" fill="url(#h)"/>
<text class="b" x="369.64" y="897.79">786</text>
<rect x="372.69" y="920.06" width="4.71" height="96.54" fill="#467da6"/>
<text class="b" x="375.05" y="917.66">652</text>
<rect x="383.52" y="967.07" width="4.71" height="49.53" fill="#c4373c"/>
<rect x="383.52" y="967.07" width="4.71" height="49.53" fill="url(#h)"/>
<text class="b" x="385.87" y="964.67">335</text>
<rect x="388.93" y="972.11" width="4.71" height="44.49" fill="#dc8233"/>
<text class="b" x="391.28" y="969.71">301</text>
<rect x="394.34" y="980.71" width="4.71" height="35.89" fill="#4ca046"/>
<rect x="394.34" y="980.71" width="4.71" height="35.89" fill="url(#h)"/>
<text class="b" x="396.7" y="978.31">243</text>
<rect x="399.75" y="998.21" width="4.71" height="18.39" fill="#467da6"/>
<text class="b" x="402.11" y="995.81">125</text>
<rect x="410.58" y="988.87" width="4.71" height="27.73" fill="#c4373c"/>
<rect x="410.58" y="988.87" width="4.71" height="27.73" fill="url(#h)"/>
<text class="b" x="412.93" y="986.47">188</text>
<rect x="415.99" y="983.09" width="4.71" height="33.51" fill="#dc8233"/>
<text class="b" x="418.34" y="980.69">227</text>
<rect x="421.4" y="993.62" width="4.71" height="22.98" fill="#4ca046"/>
<rect x="421.4" y="993.62" width="4.71" height="22.98" fill="url(#h)"/>
<text class="b" x="423.76" y="991.22">156</text>
<rect x="426.81" y="996.88" width="4.71" height="19.72" fill="#467da6"/>
<text class="b" x="429.17" y="994.48">134</text>
<rect x="437.64" y="1001.92" width="4.71" height="14.68" fill="#c4373c"/>
<rect x="437.64" y="1001.92" width="4.71" height="14.68" fill="url(#h)"/>
<text class="b" x="439.99" y="999.52">100</text>
<rect x="443.05" y="996.43" width="4.71" height="20.17" fill="#dc8233"/>
<text class="b" x="445.4" y="994.03">137</text>
<rect x="448.46" y="1005.92" width="4.71" height="10.68" fill="#4ca046"/>
<rect x="448.46" y="1005.92" width="4.71" height="10.68" fill="url(#h)"/>
<text class="b" x="450.82" y="1003.52">73</text>
<rect x="453.87" y="1001.33" width="4.71" height="15.27" fill="#467da6"/>
<text class="b" x="456.23" y="998.93">104</text>
<rect x="464.7" y="1010.82" width="4.71" height="5.78" fill="#c4373c"/>
<rect x="464.7" y="1010.82" width="4.71" height="5.78" fill="url(#h)"/>
<text class="b" x="467.05" y="1008.42">40</text>
<rect x="470.11" y="1009.34" width="4.71" height="7.26" fill="#dc8233"/>
<text class="b" x="472.46" y="1006.94">50</text>
<rect x="475.52" y="1011.26" width="4.71" height="5.34" fill="#4ca046"/>
<rect x="475.52" y="1011.26" width="4.71" height="5.34" fill="url(#h)"/>
<text class="b" x="477.88" y="1008.86">37</text>
<rect x="480.93" y="1008.45" width="4.71" height="8.15" fill="#467da6"/>
<text class="b" x="483.29" y="1006.05">56</text>
<rect x="491.76" y="1015.27" width="4.71" height="1.33" fill="#c4373c" opacity="0.98"/>
<rect x="491.76" y="1015.27" width="4.71" height="1.33" fill="url(#h)"/>
<text class="b" x="494.11" y="1012.87">10</text>
<rect x="497.17" y="1016.01" width="4.71" height="0.59" fill="#dc8233" opacity="0.31"/>
<text class="b" x="499.52" y="1013.61">5</text>
<rect x="502.58" y="1014.53" width="4.71" height="2.07" fill="#4ca046"/>
<rect x="502.58" y="1014.53" width="4.71" height="2.07" fill="url(#h)"/>
<text class="b" x="504.94" y="1012.13">15</text>
<rect x="507.99" y="1015.86" width="4.71" height="0.74" fill="#467da6" opacity="0.45"/>
<text class="b" x="510.35" y="1013.46">6</text>
<text class="b" x="521.17" y="1013.65">4</text>
<text class="b" x="526.58" y="1013.73">3</text>
<rect x="529.64" y="1014.38" width="4.71" height="2.22" fill="#4ca046"/>
<rect x="529.64" y="1014.38" width="4.71" height="2.22" fill="url(#h)"/>
<text class="b" x="532" y="1011.98">16</text>
<text class="b" x="537.41" y="1013.95">0</text>
<text class="b" x="548.23" y="1013.65">4</text>
<text class="b" x="553.64" y="1013.88">1</text>
<rect x="556.7" y="1015.56" width="4.71" height="1.04" fill="#4ca046" opacity="0.71"/>
<rect x="556.7" y="1015.56" width="4.71" height="1.04" fill="url(#h)"/>
<text class="b" x="559.06" y="1013.16">8</text>
<text class="b" x="564.47" y="1013.95">0</text>
<text class="b" x="575.29" y="1013.65">4</text>
<text class="b" x="580.7" y="1013.95">0</text>
<rect x="583.76" y="1015.86" width="4.71" height="0.74" fill="#4ca046" opacity="0.45"/>
<text class="b" x="586.12" y="1013.46">6</text>
<text class="b" x="591.53" y="1013.95">0</text>
<text class="b" x="602.35" y="1013.95">0</text>
<text class="b" x="607.76" y="1013.95">0</text>
<text class="b" x="613.18" y="1013.88">1</text>
<text class="b" x="618.59" y="1013.95">0</text>
<text class="x" transform="translate(366.93 1030.25) rotate(-45)" x="0" y="2.1">[0, 0.1)</text>
<text class="x" transform="translate(393.99 1030.25) rotate(-45)" x="0" y="2.1">[0.1, 0.2)</text>
<text class="x" transform="translate(421.05 1030.25) rotate(-45)" x="0" y="2.1">[0.2, 0.3)</text>
<text class="x" transform="translate(448.11 1030.25) rotate(-45)" x="0" y="2.1">[0.3, 0.4)</text>
<text class="x" transform="translate(475.17 1030.25) rotate(-45)" x="0" y="2.1">[0.4, 0.5)</text>
<text class="x" transform="translate(502.23 1030.25) rotate(-45)" x="0" y="2.1">[0.5, 0.6)</text>
<text class="x" transform="translate(529.29 1030.25) rotate(-45)" x="0" y="2.1">[0.6, 0.7)</text>
<text class="x" transform="translate(556.35 1030.25) rotate(-45)" x="0" y="2.1">[0.7, 0.8)</text>
<text class="x" transform="translate(583.41 1030.25) rotate(-45)" x="0" y="2.1">[0.8, 0.9)</text>
<text class="x" transform="translate(610.47 1030.25) rotate(-45)" x="0" y="2.1">[0.9, 1.0]</text>
<text class="l" x="488.7" y="1048.95">Coverage ratio bins</text>
<text class="l" transform="translate(335.2 949.23) rotate(-90)">Number of images</text>
</g>
<rect x="633.4" y="1.6" width="50.3" height="53.3" rx="1.3" ry="1.3" fill="#fff" stroke="#cccccc" stroke-width="0.7"/>
<text x="658.5" y="9.9" style="font-size:8px;text-anchor:middle">Source</text>
<rect x="637.1" y="15.8" width="13.6" height="4.2" fill="#e02024" stroke="#fff" stroke-width="0.3"/>
<rect x="637.1" y="15.8" width="13.6" height="4.2" fill="url(#h2)"/>
<text x="656.9" y="20" style="font-size:6.8px">HAG_D</text>
<rect x="637.1" y="25.9" width="13.6" height="4.2" fill="#fb8019" stroke="#fff" stroke-width="0.3"/>
<text x="656.9" y="30.1" style="font-size:6.8px">HAG_T</text>
<rect x="637.1" y="36" width="13.6" height="4.2" fill="#4caf3c" stroke="#fff" stroke-width="0.3"/>
<rect x="637.1" y="36" width="13.6" height="4.2" fill="url(#h2)"/>
<text x="656.9" y="40.2" style="font-size:6.8px">SP_D</text>
<rect x="637.1" y="46.1" width="13.6" height="4.2" fill="#3a7fbc" stroke="#fff" stroke-width="0.3"/>
<text x="656.9" y="50.3" style="font-size:6.8px">SP_T</text>
</svg></body></html>
